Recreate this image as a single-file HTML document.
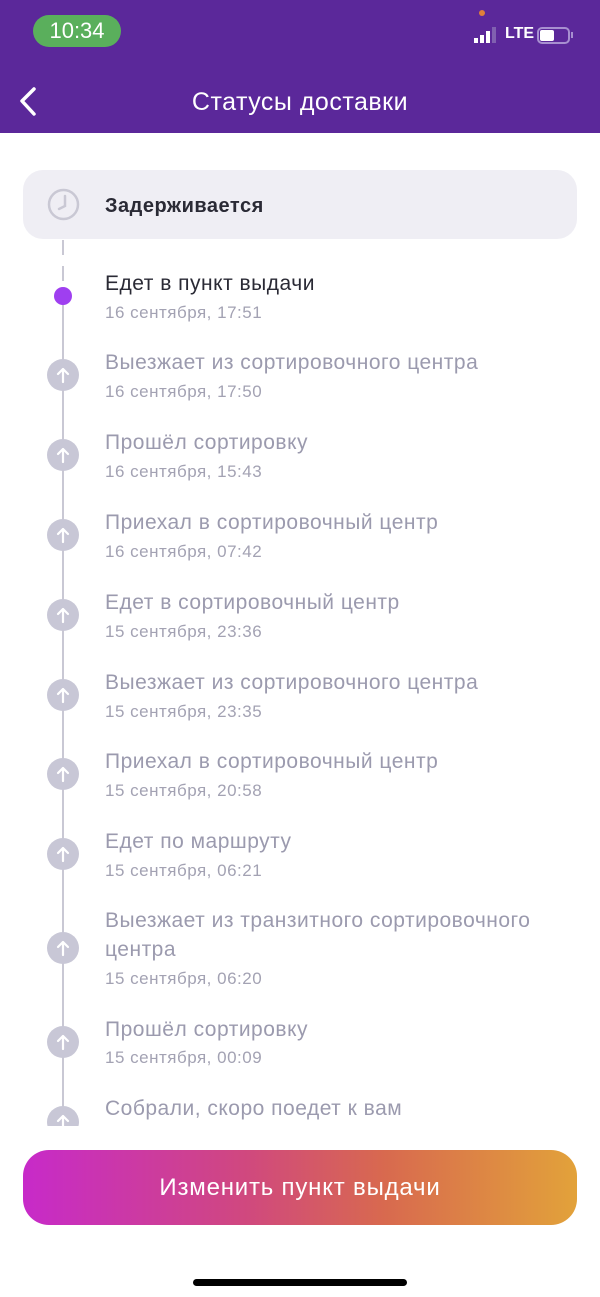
<!DOCTYPE html>
<html><head><meta charset="utf-8"><style>
*{margin:0;padding:0;box-sizing:border-box}
body{width:600px;height:1297px;background:#fff;position:relative;overflow:hidden;font-family:"Liberation Sans","Noto Sans CJK SC",sans-serif}
.a{position:absolute}
.t{position:absolute;left:105px;font-size:21px;letter-spacing:0.5px;color:#9b9aae;white-space:nowrap;line-height:24px}
.d{position:absolute;left:105px;font-size:17px;letter-spacing:0.5px;color:#a3a2b3;white-space:nowrap;line-height:20px}
.c{position:absolute;left:47px;width:32px;height:32px;border-radius:50%;background:#c8c7d6}
.c svg{position:absolute;left:8px;top:7px}
</style></head><body>
<div class="a" style="left:0;top:0;width:600px;height:133px;background:#5b289a"></div>
<div class="a" style="left:33px;top:15px;width:88px;height:32px;border-radius:16px;background:#5aaf5c;color:#fff;font-size:22px;text-align:center;line-height:32px">10:34</div>
<div class="a" style="left:479px;top:10px;width:6px;height:6px;border-radius:50%;background:#e0803a"></div>
<div class="a" style="left:474px;top:38px;width:4px;height:5px;background:#fff"></div>
<div class="a" style="left:480px;top:35px;width:4px;height:8px;background:#fff"></div>
<div class="a" style="left:486px;top:31px;width:4px;height:12px;background:#fff"></div>
<div class="a" style="left:492px;top:27px;width:4px;height:16px;background:#8060b0"></div>
<div class="a" style="left:505px;top:25px;color:#fff;font-size:16px;font-weight:bold">LTE</div>
<div class="a" style="left:537px;top:27px;width:33px;height:17px;border:2px solid #a78fd0;border-radius:5px"><div style="position:absolute;left:1px;top:1px;width:14px;height:11px;background:#fff;border-radius:2px"></div></div>
<div class="a" style="left:571px;top:32px;width:2px;height:6px;background:#a78fd0"></div>
<svg class="a" style="left:16px;top:86px" width="24" height="32"><path d="M18 3 L6 15 L18 28" stroke="#fff" stroke-width="3.5" fill="none" stroke-linecap="round" stroke-linejoin="round"/></svg>
<div class="a" style="left:0;top:86px;width:600px;text-align:center;color:#fff;font-size:25px;letter-spacing:0.5px;line-height:32px">Статусы доставки</div>

<div class="a" style="left:23px;top:170px;width:554px;height:69px;border-radius:20px;background:#efeef4"></div>
<svg class="a" style="left:47px;top:188px" width="33" height="33"><circle cx="16.5" cy="16.5" r="14.5" fill="none" stroke="#c9c8d4" stroke-width="2.5"/><path d="M18 8 L18 18 L12 21" stroke="#c9c8d4" stroke-width="2.5" fill="none" stroke-linecap="round"/></svg>
<div class="a" style="left:105px;top:194px;font-size:20px;letter-spacing:0.5px;color:#2a2a35;font-weight:bold;line-height:24px">Задерживается</div>

<div class="a" style="left:62px;top:240px;width:2px;height:15px;background:#c9c8d4"></div>
<div class="a" style="left:62px;top:266px;width:2px;height:15px;background:#c9c8d4"></div>
<div class="a" style="left:62px;top:296px;width:2px;height:830px;background:#c9c8d4"></div>
<div class="a" style="left:54px;top:287px;width:18px;height:18px;border-radius:50%;background:#9f3ff0"></div>
<div class="t" style="top:272px;color:#2a2a35">Едет в пункт выдачи</div>
<div class="d" style="top:303px">16 сентября, 17:51</div>

<div class="t" style="top:351px">Выезжает из сортировочного центра</div><div class="d" style="top:382px">16 сентября, 17:50</div>
<div class="t" style="top:431px">Прошёл сортировку</div><div class="d" style="top:462px">16 сентября, 15:43</div>
<div class="t" style="top:511px">Приехал в сортировочный центр</div><div class="d" style="top:542px">16 сентября, 07:42</div>
<div class="t" style="top:591px">Едет в сортировочный центр</div><div class="d" style="top:622px">15 сентября, 23:36</div>
<div class="t" style="top:671px">Выезжает из сортировочного центра</div><div class="d" style="top:702px">15 сентября, 23:35</div>
<div class="t" style="top:750px">Приехал в сортировочный центр</div><div class="d" style="top:781px">15 сентября, 20:58</div>
<div class="t" style="top:830px">Едет по маршруту</div><div class="d" style="top:861px">15 сентября, 06:21</div>
<div class="t" style="top:909px">Выезжает из транзитного сортировочного</div>
<div class="t" style="top:938px">центра</div><div class="d" style="top:969px">15 сентября, 06:20</div>
<div class="t" style="top:1018px">Прошёл сортировку</div><div class="d" style="top:1048px">15 сентября, 00:09</div>
<div class="t" style="top:1097px">Собрали, скоро поедет к вам</div>

<div class="c" style="top:359px"><svg width="16" height="18"><path d="M8 16 V3 M3 8 L8 3 L13 8" stroke="#fff" stroke-width="2.2" fill="none" stroke-linecap="round" stroke-linejoin="round"/></svg></div>
<div class="c" style="top:439px"><svg width="16" height="18"><path d="M8 16 V3 M3 8 L8 3 L13 8" stroke="#fff" stroke-width="2.2" fill="none" stroke-linecap="round" stroke-linejoin="round"/></svg></div>
<div class="c" style="top:519px"><svg width="16" height="18"><path d="M8 16 V3 M3 8 L8 3 L13 8" stroke="#fff" stroke-width="2.2" fill="none" stroke-linecap="round" stroke-linejoin="round"/></svg></div>
<div class="c" style="top:599px"><svg width="16" height="18"><path d="M8 16 V3 M3 8 L8 3 L13 8" stroke="#fff" stroke-width="2.2" fill="none" stroke-linecap="round" stroke-linejoin="round"/></svg></div>
<div class="c" style="top:679px"><svg width="16" height="18"><path d="M8 16 V3 M3 8 L8 3 L13 8" stroke="#fff" stroke-width="2.2" fill="none" stroke-linecap="round" stroke-linejoin="round"/></svg></div>
<div class="c" style="top:758px"><svg width="16" height="18"><path d="M8 16 V3 M3 8 L8 3 L13 8" stroke="#fff" stroke-width="2.2" fill="none" stroke-linecap="round" stroke-linejoin="round"/></svg></div>
<div class="c" style="top:838px"><svg width="16" height="18"><path d="M8 16 V3 M3 8 L8 3 L13 8" stroke="#fff" stroke-width="2.2" fill="none" stroke-linecap="round" stroke-linejoin="round"/></svg></div>
<div class="c" style="top:932px"><svg width="16" height="18"><path d="M8 16 V3 M3 8 L8 3 L13 8" stroke="#fff" stroke-width="2.2" fill="none" stroke-linecap="round" stroke-linejoin="round"/></svg></div>
<div class="c" style="top:1026px"><svg width="16" height="18"><path d="M8 16 V3 M3 8 L8 3 L13 8" stroke="#fff" stroke-width="2.2" fill="none" stroke-linecap="round" stroke-linejoin="round"/></svg></div>
<div class="a" style="left:47px;top:1106px;width:32px;height:20px;overflow:hidden"><div class="c" style="left:0;top:0"><svg width="16" height="18"><path d="M8 16 V3 M3 8 L8 3 L13 8" stroke="#fff" stroke-width="2.2" fill="none" stroke-linecap="round" stroke-linejoin="round"/></svg></div></div>
<div class="a" style="left:0;top:1126px;width:600px;height:171px;background:#fff"></div>

<div class="a" style="left:23px;top:1150px;width:554px;height:75px;border-radius:26px;background:linear-gradient(90deg,#c72ac9,#d0487f 40%,#d8694f 65%,#e2a23a);color:#fff;font-size:24px;letter-spacing:0.8px;text-align:center;line-height:75px">Изменить пункт выдачи</div>
<div class="a" style="left:193px;top:1279px;width:214px;height:7px;border-radius:4px;background:#000"></div>
</body></html>
